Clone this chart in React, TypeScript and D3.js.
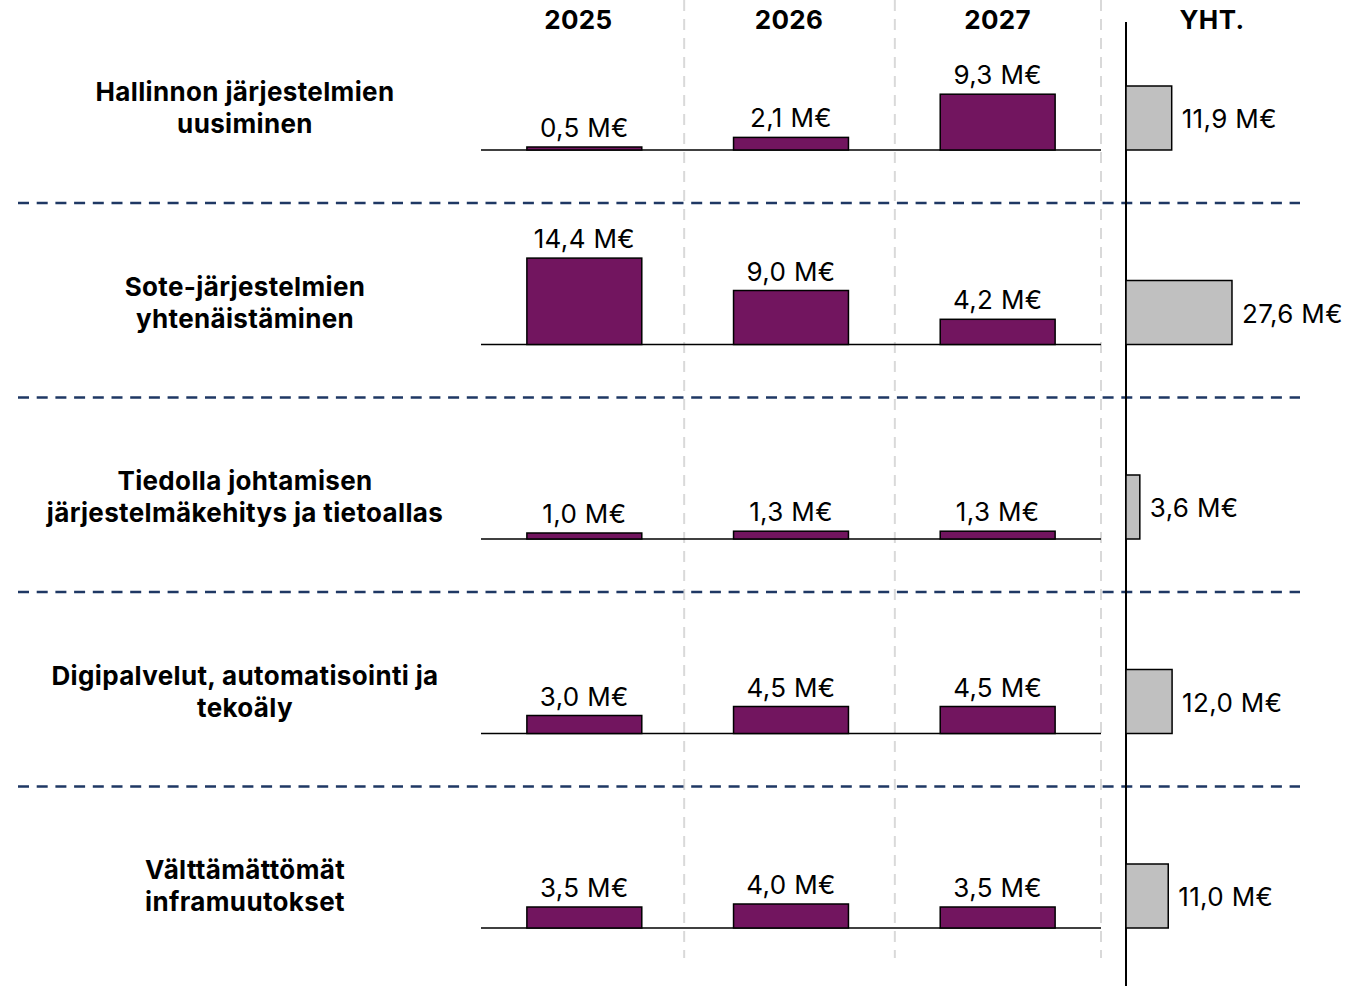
import React from 'react';
import * as d3 from 'd3';

const years = ['2025', '2026', '2027'];
const categories = [
  ['Hallinnon järjestelmien', 'uusiminen'],
  ['Sote-järjestelmien', 'yhtenäistäminen'],
  ['Tiedolla johtamisen', 'järjestelmäkehitys ja tietoallas'],
  ['Digipalvelut, automatisointi ja', 'tekoäly'],
  ['Välttämättömät', 'inframuutokset'],
];
const values2025 = [0.5, 14.4, 1.0, 3.0, 3.5];
const values2026 = [2.1, 9.0, 1.3, 4.5, 4.0];
const values2027 = [9.3, 4.2, 1.3, 4.5, 3.5];
const totals = [11.9, 27.6, 3.6, 12.0, 11.0];
const totalHeader = 'YHT.';

const width = 1370;
const height = 986;
const purple = '#72155F';
const grey = '#C0C0C0';
const navy = '#1F3864';
const font = 'Inter, "Noto Sans", sans-serif';
const fs = 26;
const ls = 0.35;

const fmt = (v: number) => `${v.toFixed(1).replace('.', ',')} M€`;

const App: React.FC = () => {
  const rowIdx = categories.map((_, i) => String(i));
  const seriesByYear = [values2025, values2026, values2027];

  // layout scales
  const xCol = d3.scaleBand<string>().domain(years).range([481, 1101]).paddingInner(0.444).paddingOuter(0.222);
  const yRow = d3.scaleBand<string>().domain(rowIdx).range([8.5, 981]).padding(0);
  const hVal = d3.scaleLinear().domain([0, 15]).range([0, 90]);
  const wTot = d3.scaleLinear().domain([0, 30]).range([0, 115.2]);
  const totalX = 1126;
  const baseOf = (i: number) => (yRow(String(i)) || 0) + 141.5;
  const step = xCol.step();
  const sepShift = [-3.5, 0.5, 0];
  const headShift = [-6, -2, 0];

  return (
    <svg width={width} height={height} style={{ position: 'absolute', left: 0, top: 0, background: '#fff' }}
      fontFamily={font} letterSpacing={ls}>
      {/* vertical column separators */}
      {years.map((y, j) => {
        const sx = (xCol(y) || 0) + xCol.bandwidth() + (step - xCol.bandwidth()) / 2 + sepShift[j];
        return (
          <line key={'vs' + y} x1={sx} x2={sx} y1={0} y2={958}
            stroke="#D9D9D9" strokeWidth={2} strokeDasharray="11 8" />
        );
      })}
      {/* row separators */}
      {rowIdx.slice(0, -1).map((r, i) => (
        <line key={'hs' + r} x1={18} x2={1300} y1={baseOf(i) + 53} y2={baseOf(i) + 53}
          stroke={navy} strokeWidth={2.5} strokeDasharray="11 7.7" />
      ))}
      {/* total axis */}
      <line x1={totalX} x2={totalX} y1={22} y2={height} stroke="#000" strokeWidth={2} />

      {/* headers */}
      {years.map((y, j) => (
        <text key={'h' + y} x={(xCol(y) || 0) + xCol.bandwidth() / 2 + headShift[j]} y={29} textAnchor="middle"
          fontWeight={700} fontSize={fs}>{y}</text>
      ))}
      <text x={1212} y={29} textAnchor="middle" fontWeight={700} fontSize={fs}>{totalHeader}</text>

      {categories.map((lines, i) => {
        const base = baseOf(i);
        return (
          <g key={'row' + i}>
            <text x={245} y={base - 49} textAnchor="middle" fontWeight={700} fontSize={fs}>
              <tspan x={245} dy={0}>{lines[0]}</tspan>
              <tspan x={245} dy={32}>{lines[1]}</tspan>
            </text>
            <line x1={481} x2={1101} y1={base} y2={base} stroke="#000" strokeWidth={1.5} />
            {years.map((y, j) => {
              const v = seriesByYear[j][i];
              const x0 = xCol(y) || 0;
              return (
                <g key={'b' + y}>
                  <rect x={x0} y={base - hVal(v)} width={xCol.bandwidth()} height={hVal(v)}
                    fill={purple} stroke="#000" strokeWidth={1.5} />
                  <text x={x0 + xCol.bandwidth() / 2} y={base - hVal(v) - 10} textAnchor="middle"
                    fontSize={fs}>{fmt(v)}</text>
                </g>
              );
            })}
            <rect x={totalX} y={base - 64} width={wTot(totals[i])} height={64}
              fill={grey} stroke="#000" strokeWidth={1.5} />
            <text x={totalX + wTot(totals[i]) + 10} y={base - 31} dy="0.35em" fontSize={fs}>{fmt(totals[i])}</text>
          </g>
        );
      })}
    </svg>
  );
};

export default App;
